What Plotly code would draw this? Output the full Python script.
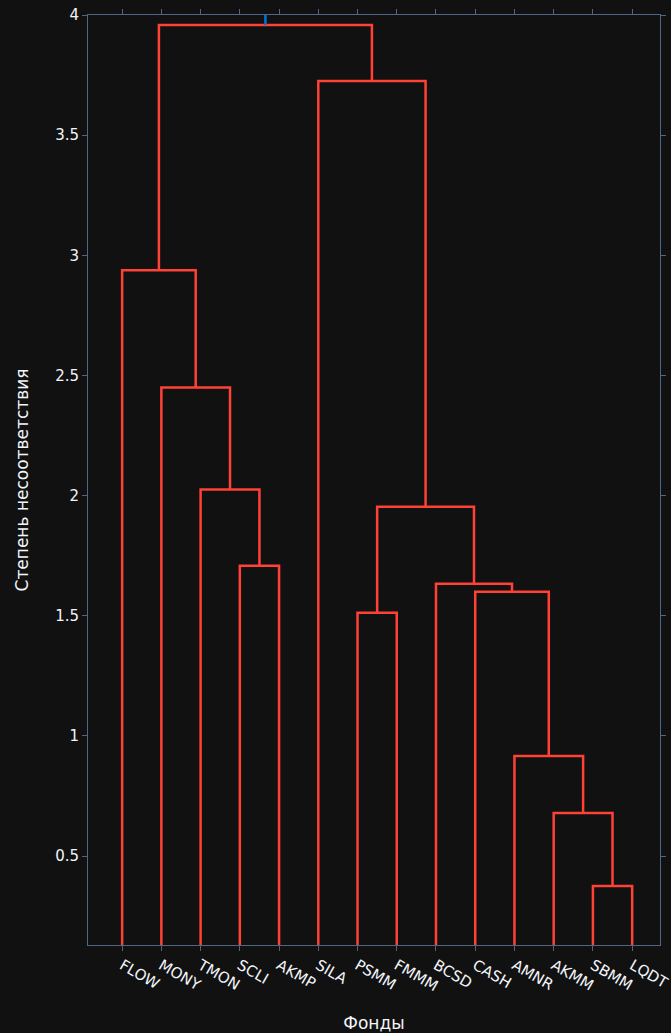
import plotly.graph_objects as go

# Leaves in dendrogram order
labels = ["FLOW", "MONY", "TMON", "SCLI", "AKMP", "SILA", "PSMM",
          "FMMM", "BCSD", "CASH", "AMNR", "AKMM", "SBMM", "LQDT"]

# Merges: (left child, right child, height); children are leaf names or "m<i>" (index of an earlier merge)
merge_left = ["SCLI", "TMON", "MONY", "FLOW", "SBMM", "AKMM", "AMNR", "CASH", "BCSD", "PSMM", "m9", "SILA", "m3"]
merge_right = ["AKMP", "m0", "m1", "m2", "LQDT", "m4", "m5", "m6", "m7", "FMMM", "m8", "m10", "m11"]
merge_height = [1.708, 2.025, 2.45, 2.9375, 0.375, 0.679, 0.917, 1.60, 1.633, 1.5125, 1.954, 3.725, 3.958]

# link above the colour threshold (going up from the root, out of view)
parent_height = 4.4

link_color = "rgb(255,65,54)"
above_color = "rgb(0,116,217)"

leaf_x = {name: 5 + 10 * i for i, name in enumerate(labels)}
node_x, node_y = {}, {}
for name in labels:
    node_x[name] = leaf_x[name]
    node_y[name] = 0.0

fig = go.Figure()
for i, (a, b, h) in enumerate(zip(merge_left, merge_right, merge_height)):
    xa, xb = node_x[a], node_x[b]
    fig.add_trace(go.Scatter(
        x=[xa, xa, xb, xb], y=[node_y[a], h, h, node_y[b]],
        mode="lines", line=dict(color=link_color, width=2.5),
        hoverinfo="text", showlegend=False))
    key = "m%d" % i
    node_x[key] = (xa + xb) / 2
    node_y[key] = h

root = "m%d" % (len(merge_height) - 1)
fig.add_trace(go.Scatter(
    x=[node_x[root], node_x[root]], y=[node_y[root], parent_height],
    mode="lines", line=dict(color=above_color, width=2.5),
    showlegend=False))

FONT = "DejaVu Sans"
axis_common = dict(
    ticks="outside", mirror="allticks", showline=True, showgrid=False,
    zeroline=False, linecolor="#506784", tickcolor="#506784",
    automargin=False, ticklabeloverflow="allow",
    tickfont=dict(family=FONT, size=15, color="#f2f5fa"),
)

fig.update_layout(
    width=671, height=1033,
    paper_bgcolor="#111111", plot_bgcolor="#111111",
    margin=dict(l=88, r=11, t=15, b=88),
    showlegend=False, hovermode="closest",
    font=dict(family=FONT, color="#f2f5fa"),
    xaxis=dict(
        tickmode="array", tickvals=[leaf_x[n] for n in labels], ticktext=labels,
        tickangle=30, range=[-3.7, 142.1],
        title=dict(text="Фонды", font=dict(size=17), standoff=22),
        **axis_common),
    yaxis=dict(
        range=[0.13, 4.0], dtick=0.5,
        title=dict(text="Степень несоответствия", font=dict(size=17), standoff=22),
        **axis_common),
)

fig.write_html(
    "out.html",
    config={"displayModeBar": False},
    post_script="document.body.style.margin='0';document.body.style.overflow='hidden';document.body.style.background='#111111';",
)
